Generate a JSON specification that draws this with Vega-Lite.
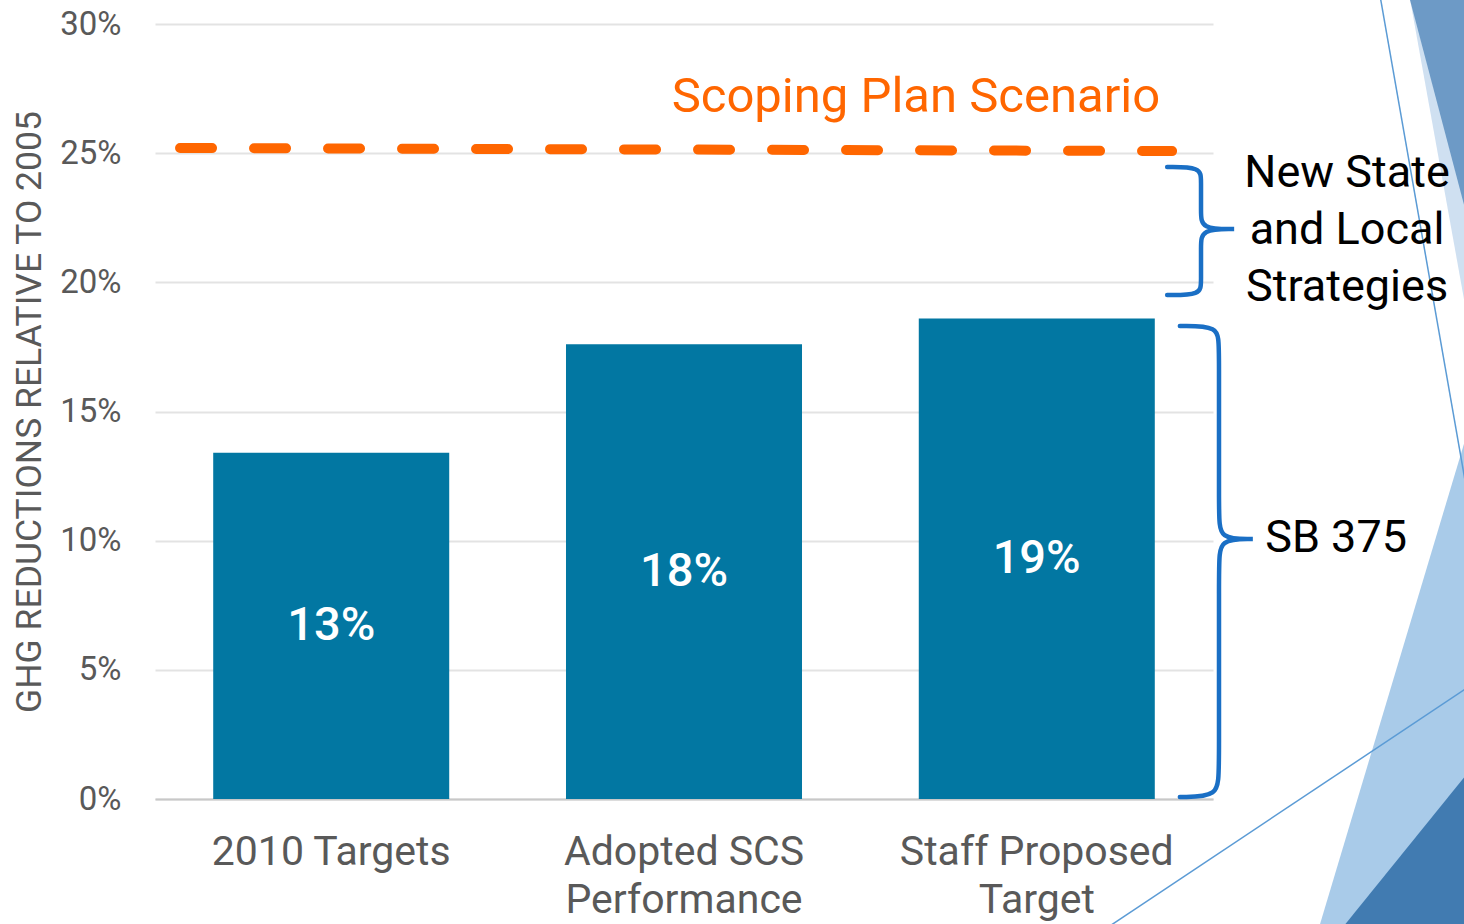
{
  "$schema": "https://vega.github.io/schema/vega-lite/v6.json",
  "width": 1058,
  "height": 775,
  "autosize": {"type": "none"},
  "padding": {"left": 155, "top": 24, "right": 251, "bottom": 125},
  "background": "white",
  "config": {"view": {"stroke": null}, "font": "Roboto"},
  "datasets": {
    "bars": [
      {"category": "2010 Targets", "value": 13.4, "label": "13%"},
      {"category": "Adopted SCS Performance", "value": 17.6, "label": "18%"},
      {"category": "Staff Proposed Target", "value": 18.6, "label": "19%"}
    ],
    "scenario": [
      {"x": 0.071, "y": 25.2},
      {"x": 2.884, "y": 25.08}
    ],
    "braces": [
      {"brace": "New State and Local Strategies", "i": 1, "x": 2.870, "y": 24.46},
      {"brace": "New State and Local Strategies", "i": 2, "x": 2.966, "y": 24.46},
      {"brace": "New State and Local Strategies", "i": 3, "x": 2.966, "y": 23.96},
      {"brace": "New State and Local Strategies", "i": 4, "x": 2.966, "y": 22.72},
      {"brace": "New State and Local Strategies", "i": 5, "x": 2.966, "y": 22.06},
      {"brace": "New State and Local Strategies", "i": 6, "x": 3.06, "y": 22.06},
      {"brace": "New State and Local Strategies", "i": 7, "x": 3.06, "y": 22.06},
      {"brace": "New State and Local Strategies", "i": 8, "x": 3.06, "y": 22.06},
      {"brace": "New State and Local Strategies", "i": 9, "x": 2.966, "y": 22.06},
      {"brace": "New State and Local Strategies", "i": 10, "x": 2.966, "y": 21.41},
      {"brace": "New State and Local Strategies", "i": 11, "x": 2.966, "y": 20.01},
      {"brace": "New State and Local Strategies", "i": 12, "x": 2.966, "y": 19.51},
      {"brace": "New State and Local Strategies", "i": 13, "x": 2.870, "y": 19.51},
      {"brace": "SB 375", "i": 1, "x": 2.906, "y": 18.31},
      {"brace": "SB 375", "i": 2, "x": 3.017, "y": 18.31},
      {"brace": "SB 375", "i": 3, "x": 3.017, "y": 17.57},
      {"brace": "SB 375", "i": 4, "x": 3.017, "y": 10.99},
      {"brace": "SB 375", "i": 5, "x": 3.017, "y": 10.06},
      {"brace": "SB 375", "i": 6, "x": 3.113, "y": 10.06},
      {"brace": "SB 375", "i": 7, "x": 3.113, "y": 10.06},
      {"brace": "SB 375", "i": 8, "x": 3.113, "y": 10.06},
      {"brace": "SB 375", "i": 9, "x": 3.017, "y": 10.06},
      {"brace": "SB 375", "i": 10, "x": 3.017, "y": 9.14},
      {"brace": "SB 375", "i": 11, "x": 3.017, "y": 1.12},
      {"brace": "SB 375", "i": 12, "x": 3.017, "y": 0.08},
      {"brace": "SB 375", "i": 13, "x": 2.906, "y": 0.08}
    ],
    "decor": [
      {"shape": "top_light", "x": 3.545, "y": 32, "y2": 32},
      {"shape": "top_light", "x": 3.75, "y": 32, "y2": 16.44},
      {"shape": "top_dark", "x": 3.538, "y": 32, "y2": 32},
      {"shape": "top_dark", "x": 3.75, "y": 32, "y2": 21.02},
      {"shape": "bottom_light", "x": 3.30, "y": -5, "y2": -5},
      {"shape": "bottom_light", "x": 3.75, "y": 15.5, "y2": -5},
      {"shape": "bottom_dark", "x": 3.366, "y": -5, "y2": -5},
      {"shape": "bottom_dark", "x": 3.75, "y": 1.48, "y2": -5}
    ],
    "thin": [
      {"line": "a", "x": 3.462, "y": 32},
      {"line": "a", "x": 3.75, "y": 9.58},
      {"line": "b", "x": 2.698, "y": -5},
      {"line": "b", "x": 3.75, "y": 4.57}
    ],
    "notes": [
      {"kind": "scenario", "note": "Scoping Plan Scenario", "x": 2.85, "y": 26.6},
      {"kind": "side", "note": "New State\nand Local\nStrategies", "x": 3.38, "y": 24.23},
      {"kind": "side", "note": "SB 375", "x": 3.349, "y": 10.1}
    ]
  },
  "layer": [
    {
      "data": {"name": "decor"},
      "mark": {"type": "area", "opacity": 1, "clip": false},
      "encoding": {
        "x": {"field": "x", "type": "quantitative", "scale": {"domain": [0, 3], "nice": false, "zero": false}, "axis": null},
        "y": {"field": "y", "type": "quantitative", "stack": null, "scale": {"domain": [0, 30], "nice": false}, "axis": null},
        "y2": {"field": "y2"},
        "color": {"field": "shape", "type": "nominal", "scale": {"domain": ["top_light", "top_dark", "bottom_light", "bottom_dark"], "range": ["#cfe0f1", "#6d9ac6", "#a9cbe9", "#417bb1"]}, "legend": null}
      }
    },
    {
      "data": {"name": "thin"},
      "mark": {"type": "line", "color": "#5b9bd5", "strokeWidth": 1.5, "clip": false},
      "encoding": {
        "x": {"field": "x", "type": "quantitative", "scale": {"domain": [0, 3], "nice": false, "zero": false}, "axis": null},
        "y": {"field": "y", "type": "quantitative", "scale": {"domain": [0, 30], "nice": false}, "axis": null},
        "detail": {"field": "line", "type": "nominal"}
      }
    },
    {
      "data": {"name": "bars"},
      "mark": {"type": "bar", "color": "#0277A2"},
      "encoding": {
        "x": {
          "field": "category", "type": "nominal", "sort": null,
          "scale": {"paddingInner": 0.331, "paddingOuter": 0.165},
          "axis": {
            "title": null, "labelAngle": 0, "ticks": false, "labelLimit": 0,
            "domain": true, "domainColor": "#c8c8c8", "domainWidth": 2,
            "labelFont": "Roboto", "labelFontSize": 41, "labelColor": "#595959",
            "labelPadding": 33, "labelLineHeight": 48,
            "labelExpr": "datum.value == 'Adopted SCS Performance' ? ['Adopted SCS', 'Performance'] : datum.value == 'Staff Proposed Target' ? ['Staff Proposed', 'Target'] : datum.value"
          }
        },
        "y": {
          "field": "value", "type": "quantitative",
          "scale": {"domain": [0, 30], "nice": false},
          "axis": {
            "values": [0, 5, 10, 15, 20, 25, 30],
            "labelExpr": "datum.value + '%'",
            "grid": true, "gridColor": "#e3e3e3", "gridWidth": 2,
            "domain": false, "ticks": false,
            "labelFont": "Roboto", "labelFontSize": 33, "labelColor": "#595959", "labelPadding": 34,
            "title": "GHG REDUCTIONS RELATIVE TO 2005",
            "titleFont": "Roboto", "titleFontSize": 35.5, "titleFontWeight": "normal", "titleColor": "#595959", "titlePadding": 12
          }
        }
      }
    },
    {
      "data": {"name": "bars"},
      "mark": {"type": "text", "color": "white", "fontSize": 47, "fontWeight": 500, "font": "Roboto", "baseline": "middle", "align": "center"},
      "encoding": {
        "x": {"field": "category", "type": "nominal", "sort": null, "scale": {"paddingInner": 0.331, "paddingOuter": 0.165}, "axis": null},
        "y": {"field": "value", "type": "quantitative", "scale": {"domain": [0, 60], "nice": false}, "axis": null},
        "text": {"field": "label"}
      }
    },
    {
      "data": {"name": "scenario"},
      "mark": {"type": "line", "color": "#ff6600", "strokeWidth": 10, "strokeDash": [32, 42], "strokeCap": "round", "clip": false},
      "encoding": {
        "x": {"field": "x", "type": "quantitative", "scale": {"domain": [0, 3], "nice": false, "zero": false}, "axis": null},
        "y": {"field": "y", "type": "quantitative", "scale": {"domain": [0, 30], "nice": false}, "axis": null}
      }
    },
    {
      "data": {"name": "braces"},
      "mark": {"type": "line", "color": "#1a6fc5", "strokeWidth": 4.5, "strokeCap": "round", "interpolate": "basis", "clip": false},
      "encoding": {
        "x": {"field": "x", "type": "quantitative", "scale": {"domain": [0, 3], "nice": false, "zero": false}, "axis": null},
        "y": {"field": "y", "type": "quantitative", "scale": {"domain": [0, 30], "nice": false}, "axis": null},
        "detail": {"field": "brace", "type": "nominal"},
        "order": {"field": "i", "type": "quantitative"}
      }
    },
    {
      "data": {"name": "notes"},
      "transform": [{"filter": "datum.kind == 'scenario'"}],
      "mark": {"type": "text", "color": "#ff6600", "fontSize": 49, "font": "Roboto", "align": "right", "baseline": "alphabetic", "clip": false},
      "encoding": {
        "x": {"field": "x", "type": "quantitative", "scale": {"domain": [0, 3], "nice": false, "zero": false}, "axis": null},
        "y": {"field": "y", "type": "quantitative", "scale": {"domain": [0, 30], "nice": false}, "axis": null},
        "text": {"field": "note"}
      }
    },
    {
      "data": {"name": "notes"},
      "transform": [{"filter": "datum.kind == 'side'"}],
      "mark": {"type": "text", "color": "#000000", "fontSize": 45, "font": "Roboto", "align": "center", "baseline": "middle", "lineBreak": "\n", "lineHeight": 57, "clip": false},
      "encoding": {
        "x": {"field": "x", "type": "quantitative", "scale": {"domain": [0, 3], "nice": false, "zero": false}, "axis": null},
        "y": {"field": "y", "type": "quantitative", "scale": {"domain": [0, 30], "nice": false}, "axis": null},
        "text": {"field": "note"}
      }
    }
  ],
  "resolve": {"scale": {"x": "independent", "y": "independent"}}
}
